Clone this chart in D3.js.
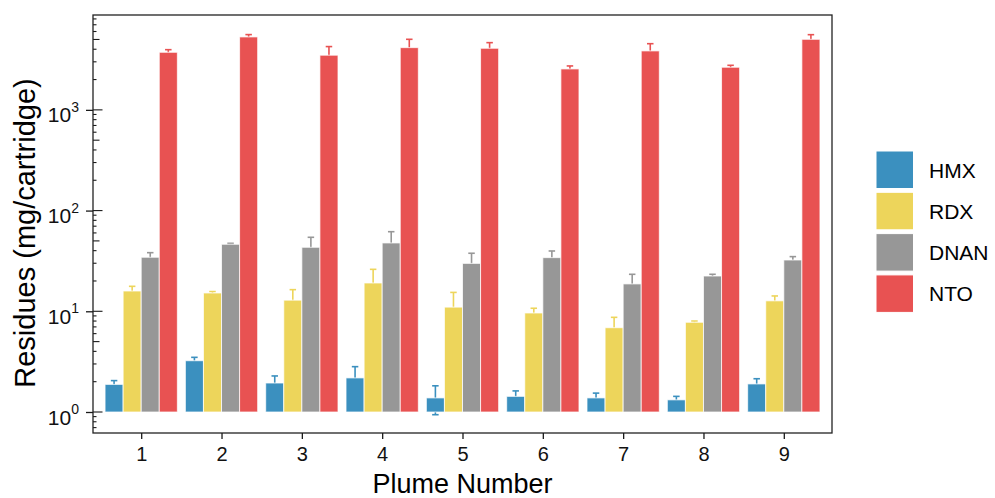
<!DOCTYPE html>
<html>
<head>
<meta charset="utf-8">
<script src="https://cdn.jsdelivr.net/npm/d3@7"></script>
<style>
  html, body { margin: 0; padding: 0; background: #fff; }
  svg { display: block; font-family: "Liberation Sans", Arial, sans-serif; }
</style>
</head>
<body>
<svg id="chart" width="995" height="498"></svg>
<script>
// ---- data ----
const plumes = ["1", "2", "3", "4", "5", "6", "7", "8", "9"];
const seriesNames = ["HMX", "RDX", "DNAN", "NTO"];
const seriesColors = ["#3B90BF", "#EDD55B", "#979797", "#E85252"];
const hmxMean  = [1.88, 3.23, 1.94, 2.18, 1.38, 1.43, 1.38, 1.32, 1.90];
const hmxSd    = [0.17, 0.26, 0.34, 0.64, 0.44, 0.19, 0.16, 0.11, 0.24];
const rdxMean  = [15.9, 15.2, 12.9, 19.1, 11.0, 9.62, 6.87, 7.78, 12.7];
const rdxSd    = [1.8, 0.5, 3.5, 7.0, 4.4, 1.1, 1.84, 0.22, 1.5];
const dnanMean = [34.4, 46.3, 43.2, 47.7, 29.9, 34.1, 18.7, 22.4, 32.3];
const dnanSd   = [3.8, 1.0, 11.1, 14.0, 7.8, 5.6, 4.6, 0.9, 2.6];
const ntoMean  = [3730, 5300, 3490, 4150, 4090, 2550, 3850, 2650, 5020];
const ntoSd    = [230, 290, 760, 870, 560, 180, 690, 120, 560];
const yTickValues = [1, 10, 100, 1000];
const yTickExponents = ["0", "1", "2", "3"];
const xTitle = "Plume Number";
const yTitle = "Residues (mg/cartridge)";

const means = [hmxMean, rdxMean, dnanMean, ntoMean];
const sds = [hmxSd, rdxSd, dnanSd, ntoSd];
const rows = [];
plumes.forEach((p, i) => {
  seriesNames.forEach((s, j) => {
    rows.push({ plume: p, series: s, mean: means[j][i], sd: sds[j][i] });
  });
});

// ---- layout ----
const svg = d3.select("#chart");
const P = { left: 93, right: 832, top: 15, bottom: 433 };

const x = d3.scalePoint().domain(plumes).range([P.left, P.right]).padding(0.6);
const step = x.step();
const xs = d3.scaleBand().domain(seriesNames).range([-0.45 * step, 0.45 * step]).padding(0);
const y = d3.scaleLog().domain([Math.pow(10, -0.2085), Math.pow(10, 3.942)]).range([P.bottom, P.top]);
const color = d3.scaleOrdinal().domain(seriesNames).range(seriesColors);

const g = svg.append("g");

// error bars (drawn beneath bars)
const capW = 6.5;
const cx = d => x(d.plume) + xs(d.series) + xs.bandwidth() / 2;
const eb = g.append("g").selectAll("g").data(rows).join("g")
  .attr("stroke", d => color(d.series))
  .attr("stroke-width", 1.6)
  .attr("fill", "none");
eb.append("line")
  .attr("x1", cx).attr("x2", cx)
  .attr("y1", d => y(d.mean - d.sd))
  .attr("y2", d => y(d.mean + d.sd));
eb.append("line")
  .attr("x1", d => cx(d) - capW / 2).attr("x2", d => cx(d) + capW / 2)
  .attr("y1", d => y(d.mean + d.sd)).attr("y2", d => y(d.mean + d.sd));
eb.append("line")
  .attr("x1", d => cx(d) - capW / 2).attr("x2", d => cx(d) + capW / 2)
  .attr("y1", d => y(d.mean - d.sd)).attr("y2", d => y(d.mean - d.sd));

// bars
g.append("g").selectAll("rect").data(rows).join("rect")
  .attr("x", d => x(d.plume) + xs(d.series))
  .attr("width", xs.bandwidth())
  .attr("y", d => y(d.mean))
  .attr("height", d => y(1) - y(d.mean))
  .attr("fill", d => color(d.series))
  .attr("stroke", "rgba(255,255,255,0.75)")
  .attr("stroke-width", 1);

// log ticks inside the panel (left)
const logTicks = [];
for (let k = -1; k <= 3; k++) {
  for (let m = 1; m <= 9; m++) {
    const v = m * Math.pow(10, k);
    if (v >= y.domain()[0] && v <= y.domain()[1]) logTicks.push({ v, m });
  }
}
g.append("g").selectAll("line").data(logTicks).join("line")
  .attr("x1", P.left)
  .attr("x2", d => P.left + (d.m === 1 ? 9.5 : d.m === 5 ? 6.5 : 3.5))
  .attr("y1", d => y(d.v))
  .attr("y2", d => y(d.v))
  .attr("stroke", "#1a1a1a")
  .attr("stroke-width", 1.1);

// panel border
g.append("rect")
  .attr("x", P.left).attr("y", P.top)
  .attr("width", P.right - P.left).attr("height", P.bottom - P.top)
  .attr("fill", "none").attr("stroke", "#222").attr("stroke-width", 1.3);

// y axis
const yAxis = d3.axisLeft(y).tickValues(yTickValues).tickSize(7).tickFormat("");
const ya = g.append("g").attr("transform", `translate(${P.left},0)`).call(yAxis);
ya.select(".domain").remove();
ya.selectAll(".tick line").attr("stroke", "#1a1a1a").attr("stroke-width", 1.3);
ya.selectAll(".tick").each(function (d, i) {
  const t = d3.select(this).append("text")
    .attr("x", -14).attr("y", 12)
    .attr("text-anchor", "end").attr("fill", "#111")
    .style("font-size", "21px");
  t.append("tspan").text("10");
  t.append("tspan").attr("dy", -10.5).style("font-size", "14px").text(yTickExponents[i]);
});

// x axis
const xAxis = d3.axisBottom(x).tickSize(6).tickPadding(8);
const xa = g.append("g").attr("transform", `translate(0,${P.bottom})`).call(xAxis);
xa.select(".domain").remove();
xa.selectAll(".tick line").attr("stroke", "#1a1a1a").attr("stroke-width", 1.3);
xa.selectAll(".tick text").style("font-size", "20px").attr("fill", "#111")
  .style("font-family", "'Liberation Sans', Arial, sans-serif");

// titles
svg.append("text")
  .attr("x", (P.left + P.right) / 2).attr("y", 493)
  .attr("text-anchor", "middle").attr("fill", "#000")
  .style("font-size", "27px").text(xTitle);
svg.append("text")
  .attr("transform", `translate(35,233) rotate(-90)`)
  .attr("text-anchor", "middle").attr("fill", "#000")
  .style("font-size", "29px").text(yTitle);

// legend
const lg = svg.append("g").attr("transform", "translate(876,151)");
const items = lg.selectAll("g").data(seriesNames).join("g")
  .attr("transform", (d, i) => `translate(0,${i * 41.3})`);
items.append("rect")
  .attr("width", 37.5).attr("height", 37.5)
  .attr("fill", d => color(d))
  .attr("stroke", "#fff").attr("stroke-width", 1);
items.append("text")
  .attr("x", 53).attr("y", 19).attr("dy", "0.36em")
  .attr("fill", "#000").style("font-size", "21px")
  .text(d => d);
</script>
</body>
</html>
